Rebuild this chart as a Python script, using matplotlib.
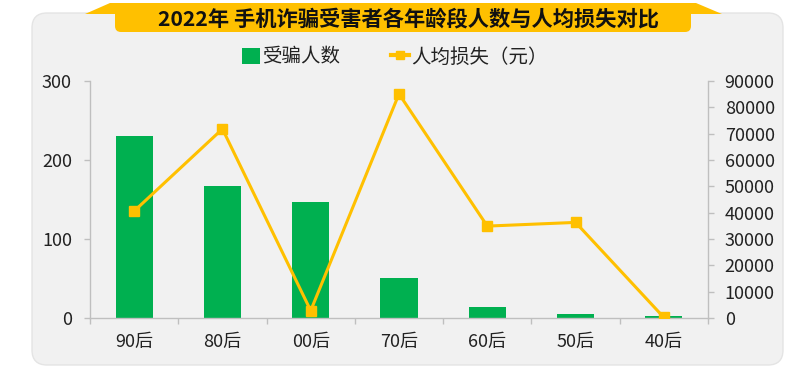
import numpy as np
import matplotlib
matplotlib.use("Agg")
import matplotlib.pyplot as plt
from matplotlib.patches import FancyBboxPatch, Polygon, Patch
from matplotlib.lines import Line2D
from matplotlib.transforms import IdentityTransform


# =========================================================
# DATA
# =========================================================

categories = ["90后", "80后", "00后", "70后", "60后", "50后", "40后"]

victims = [230, 167, 147, 51, 14, 5, 2]

avg_loss = [40600, 71800, 2800, 85100, 34900, 36300, 200]

TITLE = "2022年 手机诈骗受害者各年龄段人数与人均损失对比"

GREEN = "#00b050"
GOLD = "#ffc000"
TEXT = "#222222"
AXIS = "#bfbfbf"


# =========================================================
# FIGURE
# =========================================================

plt.rcParams["font.family"] = ["Noto Sans CJK SC", "DejaVu Sans"]

W, H = 812, 370

fig = plt.figure(figsize=(W / 100, H / 100), dpi=100)

# grey rounded card behind the chart
card = FancyBboxPatch(
    (32, 5), 751, 352,
    boxstyle="round,pad=0,rounding_size=15",
    facecolor="#f1f1f1",
    edgecolor="#e4e4e4",
    linewidth=1,
    transform=IdentityTransform(),
    zorder=-5
)
fig.patches.append(card)

# title banner
wings = Polygon(
    [(85, 356), (110, 367), (696, 367), (722, 356)],
    closed=True,
    facecolor=GOLD,
    edgecolor="none",
    transform=IdentityTransform(),
    zorder=-4
)
fig.patches.append(wings)

banner = FancyBboxPatch(
    (115, 338), 576, 29,
    boxstyle="round,pad=0,rounding_size=6",
    facecolor=GOLD,
    edgecolor="none",
    transform=IdentityTransform(),
    zorder=-4
)
fig.patches.append(banner)

fig.text(
    408 / W, 351 / H, TITLE,
    ha="center", va="center",
    fontsize=15.3, fontweight="bold", color="#111111"
)


# =========================================================
# AXES
# =========================================================

ax = fig.add_axes([90 / W, 52 / H, (708 - 90) / W, (318 - 81) / H])
ax.patch.set_visible(False)

x = np.arange(len(categories))

ax.bar(x, victims, width=0.42, color=GREEN, zorder=2)

ax.set_xlim(-0.5, len(categories) - 0.5)
ax.set_ylim(0, 300)
ax.set_yticks([0, 100, 200, 300])

ax.set_xticks(x)
ax.set_xticklabels(categories)
ax.set_xticks(np.arange(-0.5, len(categories), 1.0), minor=True)
ax.tick_params(axis="x", which="major", length=0, pad=11,
               labelsize=13, labelcolor=TEXT)
ax.tick_params(axis="x", which="minor", length=4.5, color=AXIS, width=1)
ax.tick_params(axis="y", length=4.5, color=AXIS, width=1, pad=8.5,
               labelsize=13, labelcolor=TEXT)

for side in ["top", "right"]:
    ax.spines[side].set_visible(False)
for side in ["left", "bottom"]:
    ax.spines[side].set_color(AXIS)
    ax.spines[side].set_linewidth(1)

ax2 = ax.twinx()
ax2.patch.set_visible(False)

ax2.plot(
    x, avg_loss,
    color=GOLD, linewidth=2.2,
    marker="s", markersize=7,
    markerfacecolor=GOLD, markeredgecolor=GOLD,
    zorder=3
)

ax2.set_ylim(0, 90000)
ax2.set_yticks(np.arange(0, 90001, 10000))
ax2.tick_params(axis="y", length=4, color=AXIS, width=1, pad=8,
                labelsize=13, labelcolor=TEXT)

for side in ["top", "left", "bottom"]:
    ax2.spines[side].set_visible(False)
ax2.spines["right"].set_color(AXIS)
ax2.spines["right"].set_linewidth(1)


# =========================================================
# LEGEND
# =========================================================

handles = [
    Patch(facecolor=GREEN, edgecolor="none", label="受骗人数"),
    Line2D([0], [0], color=GOLD, linewidth=3, marker="s",
           markersize=6, label="人均损失（元）"),
]

fig.legend(
    handles=handles,
    loc="center",
    bbox_to_anchor=(395 / W, 313 / H),
    ncol=2,
    frameon=False,
    fontsize=14,
    handlelength=0.9,
    handleheight=0.9,
    handletextpad=0.15,
    columnspacing=2.6,
    labelcolor=TEXT
)

plt.savefig("out.png", dpi=100)
print("Saved: out.png")
